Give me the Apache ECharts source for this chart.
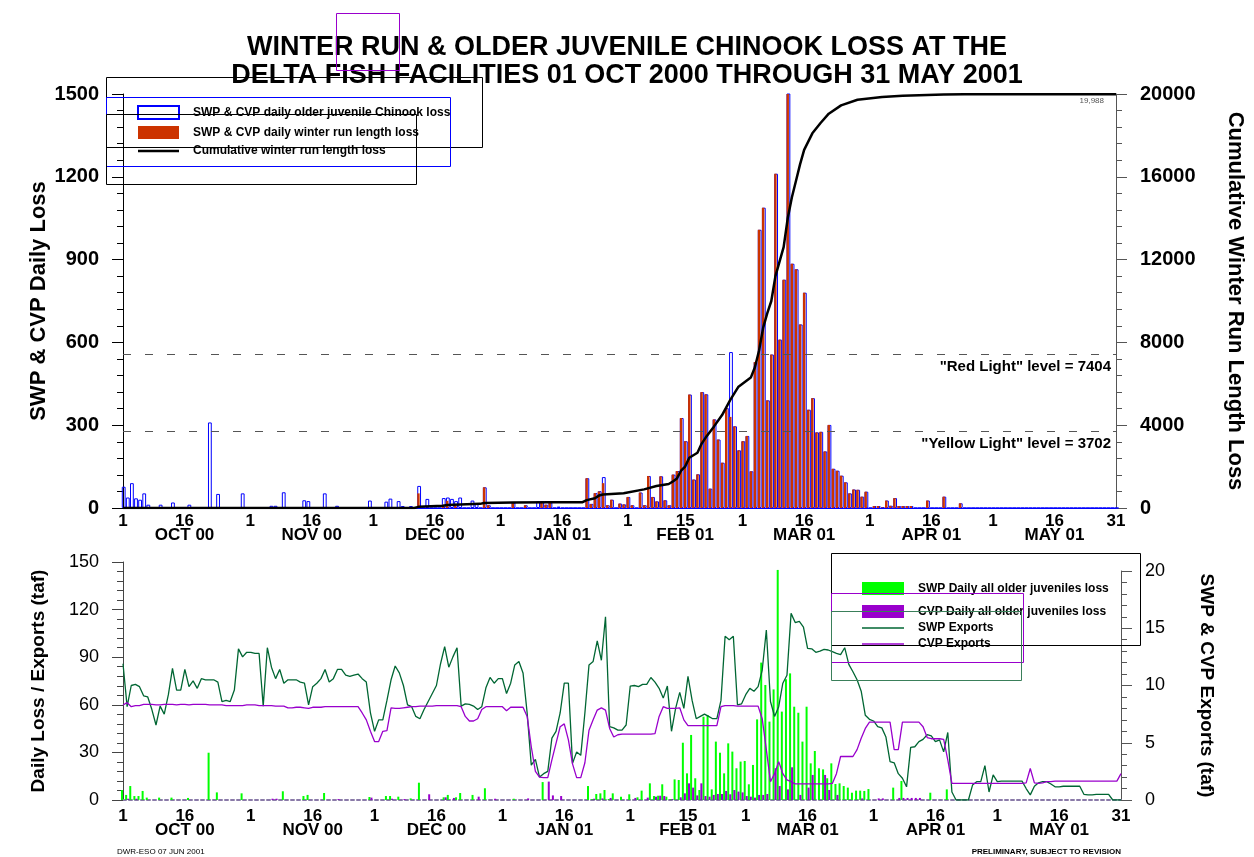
<!DOCTYPE html>
<html><head><meta charset="utf-8">
<script src="https://cdn.jsdelivr.net/npm/echarts@6/dist/echarts.min.js"></script>
<style>html,body{margin:0;padding:0;background:#fff}#c{width:1254px;height:857px}</style>
</head><body><div id="c"></div>
<script>
const FONT = '"Liberation Sans", Arial, Helvetica, sans-serif';

// ---- categories: one per day, 01 Oct 2000 .. 31 May 2001 ----
const startDay = Date.UTC(2000, 9, 1);
const dayCount = 243;
const categories = [];
for (let i = 0; i < dayCount; i++) {
  const d = new Date(startDay + i * 86400000);
  categories.push(d.toISOString().slice(0, 10));
}

// ---- x tick labels ----
const tickIndex = [0,15,31,46,61,76,92,107,123,137,151,166,182,197,212,227,242];
const tickDay   = ['1','16','1','16','1','16','1','16','1','15','1','16','1','16','1','16','31'];
const monthLabel = ['OCT 00','NOV 00','DEC 00','JAN 01','FEB 01','MAR 01','APR 01','MAY 01'];

// ---- top panel: SWP & CVP daily older juvenile Chinook loss (by month) ----
const olderJuvLoss = [].concat(
  [77,38,90,35,30,53,12,0,0,12,0,0,20,0,0,0,12,0,0,0,0,310,0,51,0,0,0,0,0,53,0],
  [0,0,0,0,0,8,8,0,57,0,0,0,0,28,25,0,0,0,53,0,0,8,0,0,0,0,0,0,0,27],
  [0,0,0,23,34,0,25,7,0,7,0,80,0,33,0,0,0,36,38,33,25,38,0,0,27,17,0,75,10,0,0],
  [0,0,0,20,0,0,10,0,0,24,24,12,20,0,5,0,0,0,0,0,0,108,15,54,61,112,10,30,0,16,13],
  [40,10,0,56,10,116,40,24,115,28,10,121,134,326,242,411,103,122,420,412,70,321,248,164,362,565,296,209],
  [242,261,133,529,1008,1088,390,556,1211,610,827,1560,885,865,665,780,356,398,274,276,205,301,142,135,117,93,53,67,66,41,59],
  [0,7,7,2,27,8,36,7,7,7,7,0,0,0,27,0,0,0,41,0,0,0,17,0,0,0,0,0,0,0],
  [0,0,0,0,0,0,0,0,0,0,0,0,0,0,0,0,0,0,0,0,0,0,0,0,0,0,0,0,0,0,0]
);
// ---- top panel: SWP & CVP daily winter run length loss ----
const winterRunLoss = [].concat(
  [0,0,0,0,0,0,0,0,0,0,0,0,0,0,0,0,0,0,0,0,0,0,0,0,0,0,0,0,0,0,0],
  [0,0,0,0,0,0,0,0,0,0,0,0,0,0,0,0,0,0,0,0,0,0,0,0,0,0,0,0,0,0],
  [0,0,0,0,0,0,0,0,0,0,0,53,0,0,0,0,0,12,26,0,8,0,0,0,0,0,0,75,10,0,0],
  [0,0,0,20,0,0,10,0,0,0,24,12,20,0,0,0,0,0,0,0,0,108,14,54,60,90,10,30,0,16,13],
  [40,10,0,56,10,116,40,24,115,28,10,121,134,326,242,411,103,122,420,412,70,321,248,164,362,330,296,209],
  [242,261,133,529,1008,1088,390,556,1211,610,827,1560,885,865,665,780,356,398,274,276,205,301,142,135,117,93,53,67,66,41,59],
  [0,7,7,2,27,8,36,7,7,7,7,0,0,0,27,0,0,0,41,0,0,0,17,0,0,0,0,0,0,0],
  [0,0,0,0,0,0,0,0,0,0,0,0,0,0,0,0,0,0,0,0,0,0,0,0,0,0,0,0,0,0,0]
);
// ---- top panel: cumulative winter run length loss, read at [day index, value] ----
const cumulativePoints = [[0,0],[71,0],[72,55],[78,110],[79,140],[87,200],[88,240],[95,260],[104,275],[112,280],
  [113,380],[115,470],[116,600],[117,650],[122,710],[127,900],[130,1060],[133,1160],[134,1280],[135,1430],
  [136,1800],[137,2000],[138,2430],[140,2670],[141,3100],[142,3400],[144,3930],[146,4490],[148,5220],[150,5860],
  [153,6300],[154,6800],[155,7600],[156,8700],[157,9400],[158,10000],[159,11200],[160,11900],[161,12600],[162,14000],
  [163,15000],[164,15800],[165,16600],[166,17300],[168,18100],[170,18600],[172,19050],[175,19450],[179,19720],
  [185,19850],[190,19920],[200,19970],[205,19988],[242,19988]];
const redLightLevel = 7404;
const yellowLightLevel = 3702;
const finalCumulative = '19,988';

// ---- bottom panel: daily all older juveniles loss ----
const swpDailyLoss = [].concat(
  [6.3,3.2,8.8,2.5,2.5,5.7,1.5,0,0,1.5,0,0,1.5,0,0,0,1.3,0,0,0,0,29.8,0,4.8,0,0,0,0,0,4.2,0],
  [0,0,0,0,0,0,0,0,5.5,0,0,0,0,2.5,3.2,0,0,0,4.4,0,0,0,0,0,0,0,0,0,0,1.9],
  [0,0,0,2.5,2.5,0,2.1,0,0,1.0,0,10.9,0,0,0,0,0,1.7,3.2,0,1.7,4.4,0,0,3.2,0,0,7.4,0,0,0],
  [0,0,0,0.8,0,0,0,0,0,0,11.3,0,0,0,0,0,0,0,0,0,0,8.8,0.6,3.8,4.2,6.3,0.6,4.2,0,2.1,0],
  [3.6,0,1.7,5.9,0,10.5,2.5,2.7,9.9,2.1,0.6,13.0,12.6,36.1,16.8,41.0,13.7,6.3,52.5,53.6,6.7,36.8,29.8,16.8,35.7,30.5,20.0,24.2],
  [24.6,9.9,22.1,50.8,86.6,72.5,49.4,69.7,145,55.7,76.1,79.8,58.8,55.0,36.8,58.8,23.1,30.9,20.0,19.3,13.7,23.1,10.1,10.5,8.8,7.8,4.6,5.9,5.9,5.7,6.9],
  [0,0,0,0,0,7.8,0,12.0,0,0,0,0,0,0,4.6,0,0,0,6.7,0,0,0,0,0,0,0,0,0,0,0],
  [0,0,0,0,0,0,0,0,0,0,0,0,0,0,0,0,0,0,0,0,0,0,0,0,0,0,0,0,0,0,0]
);
const cvpDailyLoss = [].concat(
  [0,0.8,0,0.8,0,0,0,0,0,0,0,0,0,0,0,0,0,0,0,0,0,0,0,0,0,0,0,0,0,0,0],
  [0,0,0,0,0,0.8,0.8,0,0,0,0,0,0,0,0,0,0,0,0,0,0,0.6,0,0,0,0,0,0,0,1.5],
  [0,0,0,0,0.8,0,0,0.6,0,0,0,0,0,3.6,0,0,0,1.7,0,1.3,0,0,0,0,0,2.1,0,0,0,0.8,0],
  [0,0,0,0,0,0,1.0,0,0,0,0,11.6,2.9,0,2.5,0,0,0,0,0,0,0,0.8,0,1.0,0,1.3,0,0,0,0],
  [0,1.3,0,0,1.5,0,2.1,2.7,2.5,0,0.6,0,1.7,4.2,10.5,7.8,2.9,10.5,2.5,2.1,3.2,3.8,3.8,5.7,3.6,6.3,5.3,4.8],
  [2.5,2.1,1.5,3.2,3.2,3.8,0,20.0,8.8,0,6.7,20.6,0,3.2,0,7.8,15.8,0,0,15.8,6.3,0,3.2,0,0,0,0,0,1.0,0,0],
  [0,1.0,1.0,0,0,0,1.3,1.3,1.3,1.3,1.3,1.3,0,0,0,0,0,0,0,0,0,0,0,0,0,0,0,0,0,0],
  [0,0,0,0,0,0,0,0,0,0,0,0,0,0,0,0,0,0,0,0,0,0,0,0,0,0,0,0,0,0,0]
);
// ---- bottom panel: exports (taf) ----
const swpExports = [].concat(
  [11.9,8.15,10.0,10.1,9.9,9.1,9.0,7.9,6.55,8.2,7.5,9.2,11.5,9.6,9.6,11.4,9.9,10.4,9.75,10.6,10.5,10.5,10.5,10.3,8.6,8.7,8.6,9.6,13.2,12.5,12.9],
  [12.9,12.8,12.8,8.2,13.3,11.6,10.6,11.4,10.2,10.5,10.5,10.5,10.3,10.2,8.3,9.9,10.2,10.6,11.4,10.3,10.6,11.4,11.4,10.9,10.8,10.9,11.0,10.6,10.3,7.6],
  [6.0,7.0,7.0,8.7,10.5,11.7,11.1,10.0,8.3,8.15,7.3,7.1,7.9,8.6,9.3,10.0,11.9,13.4,11.6,12.5,13.3,8.2,8.4,8.35,8.2,7.9,8.15,9.8,10.7,10.2,10.6],
  [10.6,9.3,10.2,11.8,12.1,11.1,7.6,3.05,3.55,2.0,2.3,2.5,5.4,6.0,7.6,10.2,10.2,3.2,4.2,3.9,7.6,11.8,12.1,13.9,12.2,16.0,6.4,6.3,6.1,6.1,6.55],
  [9.95,10.0,9.9,10.1,10.1,10.7,10.3,9.75,8.9,9.95,6.0,8.0,9.4,8.0,10.8,8.7,7.1,7.3,7.5,7.3,7.1,7.1,8.7,14.3,14.0,14.3,8.3,8.4],
  [9.2,9.75,9.5,9.9,11.35,14.85,8.6,7.3,8.15,10.2,10.9,16.3,15.5,15.6,15.1,13.25,13.2,12.9,13.0,13.15,13.1,12.95,12.8,12.7,13.3,11.85,11.2,10.5,9.5,7.4,7.05],
  [6.9,6.4,6.3,5.5,3.35,3.25,2.3,1.9,1.15,4.6,4.65,5.1,5.3,5.7,5.6,5.1,5.25,4.2,5.9,0.7,0,0,0,0,1.3,1.6,1.6,3.0,0.7,2.2],
  [1.6,1.65,1.65,1.65,1.65,1.65,1.65,1.0,0.45,1.2,1.5,1.6,1.6,1.4,1.15,1.15,1.2,1.2,1.2,1.2,1.2,0.5,0.45,0.45,0.5,0.5,0.5,0.5,0,0,0]
);
const cvpExports = [].concat(
  [8.3,8.5,8.15,8.25,8.25,8.35,8.35,8.35,8.3,8.3,8.35,8.35,8.35,8.3,8.35,8.35,8.3,8.35,8.35,8.35,8.35,8.3,8.3,8.3,8.3,8.25,8.25,8.25,8.25,8.25,8.3],
  [8.3,8.3,8.25,8.25,8.25,8.25,8.2,8.2,8.2,8.05,8.05,8.1,8.1,8.05,8.0,8.1,8.1,8.1,8.15,8.15,8.15,8.15,8.15,8.15,8.15,8.15,8.15,7.6,7.0,6.0],
  [5.1,5.1,6.0,6.05,8.05,8.0,8.0,8.05,8.1,8.15,8.15,8.2,8.2,8.2,8.2,8.25,8.25,8.25,8.25,8.25,8.25,8.15,7.3,6.9,6.9,7.1,7.9,8.15,8.15,8.15,8.15],
  [8.15,7.8,8.1,8.1,8.1,8.1,7.3,4.65,2.5,2.0,1.95,1.95,3.5,4.95,6.4,6.65,5.25,3.15,1.95,1.95,3.25,6.1,7.0,7.85,8.05,7.85,6.25,5.5,5.7,5.75,5.75],
  [5.75,5.75,5.75,5.75,5.75,5.75,5.8,7.3,8.15,8.0,8.0,8.0,8.05,7.0,6.5,6.5,6.5,6.5,6.5,6.5,6.5,6.5,8.15,8.25,8.25,8.25,8.2,8.2],
  [8.2,8.2,8.2,8.2,7.1,4.4,1.6,2.3,3.35,2.3,1.75,1.6,1.4,1.4,1.4,1.4,1.4,1.4,1.4,1.4,1.4,1.45,2.3,3.8,3.8,3.8,3.8,4.4,5.4,6.25,6.8],
  [6.8,6.8,6.8,6.8,6.8,4.4,4.4,6.8,6.8,6.8,6.8,6.8,6.4,5.45,5.35,5.35,5.35,5.3,3.5,1.45,1.45,1.45,1.45,1.45,1.45,1.45,1.45,1.45,1.45,1.45],
  [1.45,1.45,1.45,1.45,1.45,1.45,1.45,1.5,2.75,1.5,1.45,1.5,1.6,1.6,1.65,1.65,1.65,1.65,1.65,1.65,1.65,1.65,1.65,1.65,1.65,1.65,1.65,1.65,1.65,1.65,2.3]
);

// cumulative series: values at the read days, gaps elsewhere (the library joins them)
const cumulative = categories.map(() => null);
cumulativePoints.forEach(([i, v]) => { cumulative[i] = v; });

const NAMES = {
  juv: 'SWP & CVP daily older juvenile Chinook loss',
  wr: 'SWP & CVP daily winter run length loss',
  cum: 'Cumulative winter run length loss',
  swpL: 'SWP Daily all older juveniles loss',
  cvpL: 'CVP Daily all older juveniles loss',
  swpE: 'SWP Exports',
  cvpE: 'CVP Exports'
};

function xAxisFor(grid, visible, lineStyle, margin) {
  return {
    type: 'category', gridIndex: grid, data: categories, boundaryGap: false, show: visible,
    axisLine: { show: true, lineStyle: lineStyle },
    axisTick: { show: false }, splitLine: { show: false },
    axisLabel: {
      interval: (i) => tickIndex.indexOf(i) >= 0,
      margin: margin,
      formatter: (v, i) => {
        const p = tickIndex.indexOf(i);
        if (p < 0) return '';
        if (p % 2 === 1 && p < tickIndex.length - 1) return '{d|' + tickDay[p] + '}\n{m|' + monthLabel[(p - 1) / 2] + '}';
        return '{d|' + tickDay[p] + '}';
      },
      rich: {
        d: { fontSize: 17, fontWeight: 'bold', fontFamily: FONT, color: '#000', lineHeight: 15 },
        m: { fontSize: 17, fontWeight: 'bold', fontFamily: FONT, color: '#000', lineHeight: 13 }
      }
    }
  };
}

function yAxisFor(o) {
  return Object.assign({
    type: 'value', min: 0, splitLine: { show: false },
    axisLine: { show: true, lineStyle: { color: o.lineColor, width: 1 } },
    axisTick: { show: true, length: 11, lineStyle: { color: o.lineColor } },
    minorTick: { show: true, splitNumber: 5, length: 6, lineStyle: { color: o.lineColor } },
    axisLabel: { color: '#000', fontFamily: FONT, fontSize: o.labelSize, fontWeight: o.labelWeight, margin: 24,
      formatter: (v) => String(v) },
    nameLocation: 'middle', nameMoveOverlap: false,
    nameTextStyle: { color: '#000', fontFamily: FONT, fontWeight: 'bold', fontSize: o.nameSize }
  }, o.extra);
}

const legendText = { fontFamily: FONT, fontSize: 12, fontWeight: 'bold', color: '#000', padding: [0, 0, 0, 9] };
const lineIcon = (h) => 'path://M0,0L42,0L42,' + h + 'L0,' + h + 'Z';

const chart = echarts.init(document.getElementById('c'), null, { renderer: 'canvas' });
const option = {
  animation: false,
  backgroundColor: '#fff',
  title: {
    text: 'WINTER RUN & OLDER JUVENILE CHINOOK LOSS AT THE\nDELTA FISH FACILITIES 01 OCT 2000 THROUGH 31 MAY 2001',
    left: 'center', top: 34, padding: 0,
    textStyle: { fontFamily: FONT, fontSize: 27, fontWeight: 'bold', color: '#000', lineHeight: 28 }
  },
  grid: [
    { left: 123, right: 133, top: 94, bottom: 349 },
    { left: 123, right: 133, top: 562, bottom: 57 },
    { left: 123, right: 133, top: 571, bottom: 57 }
  ],
  legend: [
    {
      data: [{ name: NAMES.juv, icon: 'rect' }, { name: NAMES.wr, icon: 'rect' }, { name: NAMES.cum, icon: lineIcon(2.6) }],
      orient: 'vertical', left: 137, top: 105, padding: 0,
      itemWidth: 41, itemHeight: 13, itemGap: 6, selectedMode: false, textStyle: legendText
    },
    {
      data: [{ name: NAMES.swpL, icon: 'rect' }], orient: 'vertical', left: 862, top: 582, padding: 0,
      itemWidth: 42, itemHeight: 13, itemGap: 4, selectedMode: false, textStyle: legendText
    },
    {
      data: [{ name: NAMES.cvpL, icon: 'rect' }, { name: NAMES.swpE, icon: lineIcon(1.3) }, { name: NAMES.cvpE, icon: lineIcon(1.3) }],
      orient: 'vertical', left: 862, top: 605, padding: 0,
      itemWidth: 42, itemHeight: 13, itemGap: 4, selectedMode: false, textStyle: legendText
    }
  ],
  xAxis: [
    xAxisFor(0, true, { color: '#0000FF', width: 1 }, 6),
    xAxisFor(1, true, { color: '#8a7aa8', width: 2, type: [3, 3] }, 9),
    Object.assign(xAxisFor(2, false, {}, 9), { show: false })
  ],
  yAxis: [
    yAxisFor({ lineColor: '#000', labelSize: 20, labelWeight: 'bold', nameSize: 22,
      extra: { gridIndex: 0, position: 'left', max: 1500, interval: 300,
        name: 'SWP & CVP Daily Loss', nameRotate: 90, nameGap: 73 } }),
    yAxisFor({ lineColor: '#555', labelSize: 20, labelWeight: 'bold', nameSize: 22,
      extra: { gridIndex: 0, position: 'right', max: 20000, interval: 4000,
        name: 'Cumulative Winter Run Length Loss', nameRotate: -90, nameGap: 108 } }),
    yAxisFor({ lineColor: '#444', labelSize: 18, labelWeight: 'normal', nameSize: 19,
      extra: { gridIndex: 1, position: 'left', max: 150, interval: 30,
        name: 'Daily Loss / Exports (taf)', nameRotate: 90, nameGap: 75 } }),
    yAxisFor({ lineColor: '#555', labelSize: 18, labelWeight: 'normal', nameSize: 19,
      extra: { gridIndex: 2, position: 'right', max: 20, interval: 5,
        name: 'SWP & CVP Exports (taf)', nameRotate: -90, nameGap: 76 } })
  ],
  series: [
    { name: NAMES.juv, type: 'bar', xAxisIndex: 0, yAxisIndex: 0, data: olderJuvLoss,
      barWidth: 3.8,
      itemStyle: { color: 'rgba(255,255,255,0)', borderColor: '#0000FF', borderWidth: 1 } },
    { name: NAMES.wr, type: 'bar', xAxisIndex: 0, yAxisIndex: 0, data: winterRunLoss,
      barWidth: 2.4, barGap: '-100%', itemStyle: { color: '#CC3300' } },
    { name: NAMES.cum, type: 'line', xAxisIndex: 0, yAxisIndex: 1, data: cumulative,
      connectNulls: true, symbol: 'none', z: 5,
      lineStyle: { color: '#000', width: 2.5 }, itemStyle: { color: '#000' },
      markLine: {
        silent: true, symbol: ['none', 'none'],
        lineStyle: { color: '#555', width: 1, type: [8, 14] },
        label: { position: 'insideEndBottom', color: '#000', fontFamily: FONT, fontSize: 15, fontWeight: 'bold' },
        data: [
          { yAxis: redLightLevel, label: { formatter: '"Red Light" level = ' + redLightLevel } },
          { yAxis: yellowLightLevel, label: { formatter: '"Yellow Light" level = ' + yellowLightLevel } }
        ]
      } },
    { name: NAMES.swpL, type: 'bar', xAxisIndex: 1, yAxisIndex: 2, data: swpDailyLoss,
      barWidth: 2, itemStyle: { color: '#00FF00' } },
    { name: NAMES.cvpL, type: 'bar', xAxisIndex: 1, yAxisIndex: 2, data: cvpDailyLoss,
      barWidth: 2, barGap: 0, itemStyle: { color: '#9900CC' } },
    { name: NAMES.swpE, type: 'line', xAxisIndex: 2, yAxisIndex: 3, data: swpExports,
      symbol: 'none', lineStyle: { color: '#006633', width: 1.3 }, itemStyle: { color: '#006633' } },
    { name: NAMES.cvpE, type: 'line', xAxisIndex: 2, yAxisIndex: 3, data: cvpExports,
      symbol: 'none', lineStyle: { color: '#9900CC', width: 1.3 }, itemStyle: { color: '#9900CC' } }
  ],
  graphic: [
    { type: 'rect', shape: { x: 336.5, y: 13.5, width: 63, height: 57 }, style: { fill: 'none', stroke: '#9900CC', lineWidth: 1 }, z: 100 },
    { type: 'rect', shape: { x: 106.5, y: 77.5, width: 376, height: 70 }, style: { fill: 'none', stroke: '#000', lineWidth: 1 }, z: 100 },
    { type: 'rect', shape: { x: 106.5, y: 97.5, width: 344, height: 69 }, style: { fill: 'none', stroke: '#0000FF', lineWidth: 1 }, z: 100 },
    { type: 'rect', shape: { x: 106.5, y: 114.5, width: 310, height: 70 }, style: { fill: 'none', stroke: '#000', lineWidth: 1 }, z: 100 },
    { type: 'rect', shape: { x: 831.5, y: 553.5, width: 309, height: 92 }, style: { fill: 'none', stroke: '#000', lineWidth: 1 }, z: 100 },
    { type: 'rect', shape: { x: 831.5, y: 593.5, width: 192, height: 69 }, style: { fill: 'none', stroke: '#9900CC', lineWidth: 1 }, z: 100 },
    { type: 'rect', shape: { x: 831.5, y: 611.5, width: 190, height: 69 }, style: { fill: 'none', stroke: '#3a7f5a', lineWidth: 1 }, z: 100 },
    { type: 'text', x: 1104, y: 101, style: { text: finalCumulative, fill: '#555', font: '8px ' + FONT, textAlign: 'right', textVerticalAlign: 'middle' }, z: 100 },
    { type: 'text', x: 117, y: 852, style: { text: 'DWR-ESO 07 JUN 2001', fill: '#000', font: '8px ' + FONT, textAlign: 'left', textVerticalAlign: 'middle' }, z: 100 },
    { type: 'text', x: 1121, y: 852, style: { text: 'PRELIMINARY, SUBJECT TO REVISION', fill: '#000', font: 'bold 8px ' + FONT, textAlign: 'right', textVerticalAlign: 'middle' }, z: 100 }
  ]
};
chart.setOption(option);
</script>
</body></html>
